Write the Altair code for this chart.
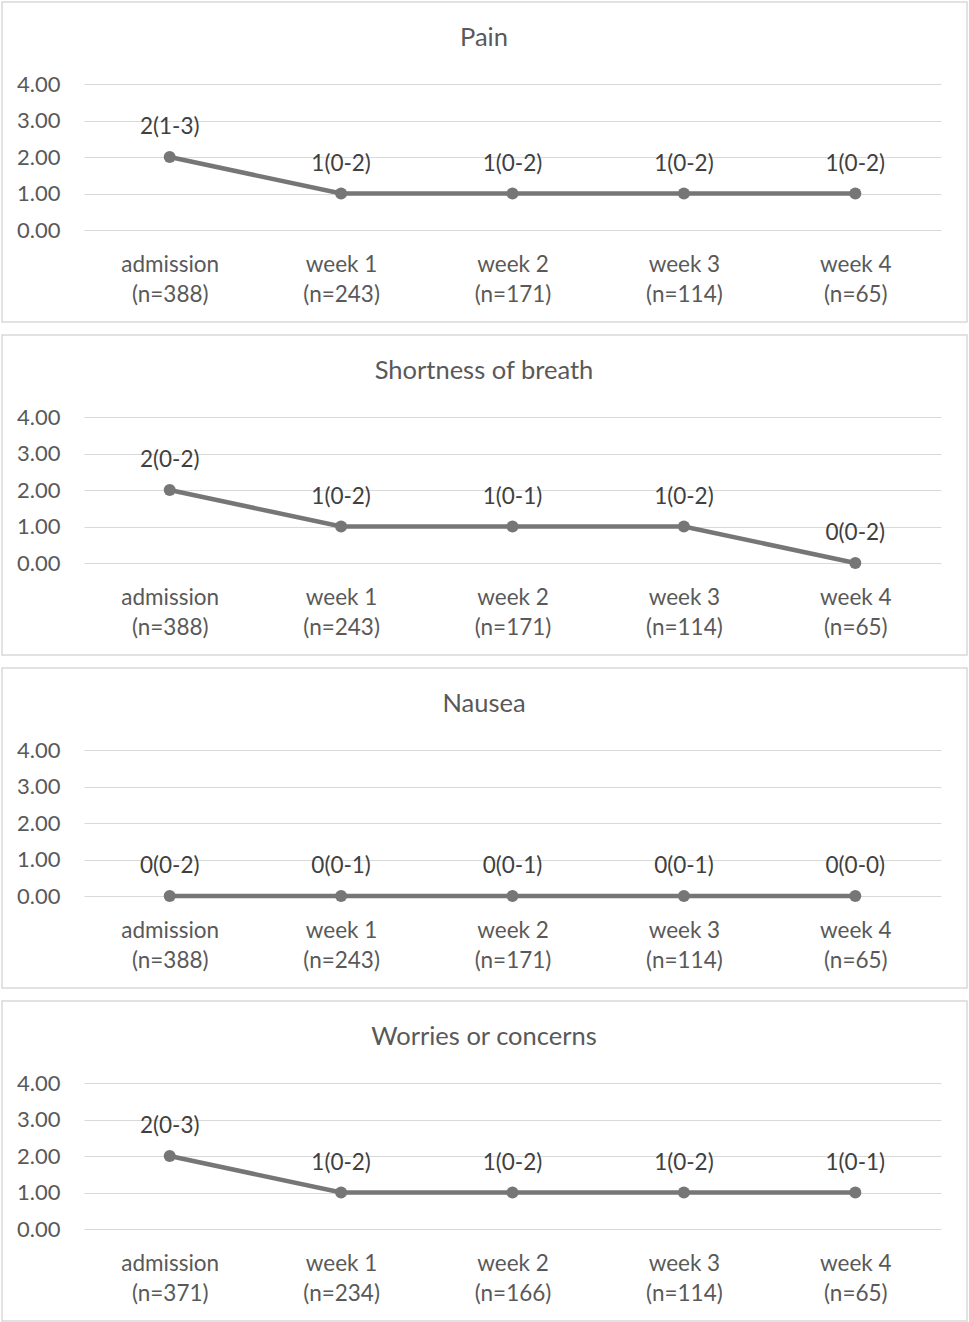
import altair as alt
import pandas as pd

# Time points and sample sizes
timepoints = ["admission", "week 1", "week 2", "week 3", "week 4"]
n_general = [388, 243, 171, 114, 65]
n_worries = [371, 234, 166, 114, 65]

symptoms = ["Pain", "Shortness of breath", "Nausea", "Worries or concerns"]

# Median scores per symptom
pain_median = [2, 1, 1, 1, 1]
breath_median = [2, 1, 1, 1, 0]
nausea_median = [0, 0, 0, 0, 0]
worries_median = [2, 1, 1, 1, 1]

# Interquartile ranges per symptom
pain_iqr = ["1-3", "0-2", "0-2", "0-2", "0-2"]
breath_iqr = ["0-2", "0-2", "0-1", "0-2", "0-2"]
nausea_iqr = ["0-2", "0-1", "0-1", "0-1", "0-0"]
worries_iqr = ["0-3", "0-2", "0-2", "0-2", "0-1"]

panels = [
    (symptoms[0], pain_median, pain_iqr, n_general),
    (symptoms[1], breath_median, breath_iqr, n_general),
    (symptoms[2], nausea_median, nausea_iqr, n_general),
    (symptoms[3], worries_median, worries_iqr, n_worries),
]

FONT = "Lato"
AXIS_GREY = "#595959"
LABEL_GREY = "#404040"
LINE_GREY = "#767676"
GRID_GREY = "#d9d9d9"

W, H = 857, 146


def panel(name, medians, iqrs, ns):
    df = pd.DataFrame({
        "xlab": [f"{t}\n(n={n})" for t, n in zip(timepoints, ns)],
        "median": medians,
        "label": [f"{m}({q})" for m, q in zip(medians, iqrs)],
    })
    order = list(df["xlab"])
    x = alt.X(
        "xlab:N", sort=order,
        scale=alt.Scale(padding=0.5),
        axis=alt.Axis(
            title=None, labelAngle=0, domain=False, ticks=False, grid=False,
            labelExpr="split(datum.label, '\\n')", labelLineHeight=30,
            labelPadding=23, labelFont=FONT, labelFontSize=22.5,
            labelColor=AXIS_GREY,
        ),
    )
    y = alt.Y(
        "median:Q",
        scale=alt.Scale(domain=[0, 4], nice=False, zero=True),
        axis=alt.Axis(
            title=None, values=[0, 1, 2, 3, 4], format=".2f",
            domain=False, ticks=False, grid=True, gridColor=GRID_GREY,
            gridWidth=1.2, labelPadding=24, labelFont=FONT,
            labelFontSize=22, labelColor=AXIS_GREY,
        ),
    )
    base = alt.Chart(df)
    frame = alt.Chart(alt.Data(values=[{"k": 1}])).mark_rect(
        filled=False, stroke=GRID_GREY, strokeWidth=1.5
    ).encode(
        x=alt.value(-82), x2=alt.value(W + 26),
        y=alt.value(-82), y2=alt.value(H + 92),
    )
    heading = alt.Chart(alt.Data(values=[{"name": name}])).mark_text(
        font=FONT, fontSize=25.5, color=AXIS_GREY, align="center",
        baseline="middle",
    ).encode(
        x=alt.value(400), y=alt.value(-46), text="name:N"
    )
    line = base.mark_line(color=LINE_GREY, strokeWidth=4.5).encode(x=x, y=y)
    pts = base.mark_circle(color=LINE_GREY, size=145, opacity=1).encode(x=x, y=y)
    labels = base.mark_text(
        font=FONT, fontSize=22.5, color=LABEL_GREY, dy=-30, baseline="middle"
    ).encode(x=x, y=y, text="label:N")
    return alt.layer(frame, heading, line, pts, labels).properties(width=W, height=H)


chart = alt.vconcat(
    *[panel(*p) for p in panels], spacing=11
).properties(
    padding={"left": 1, "top": 1, "right": 1, "bottom": 1},
    background="white",
).configure_view(stroke=None)

chart.save("out.html", embed_options={"renderer": "svg", "actions": False})
